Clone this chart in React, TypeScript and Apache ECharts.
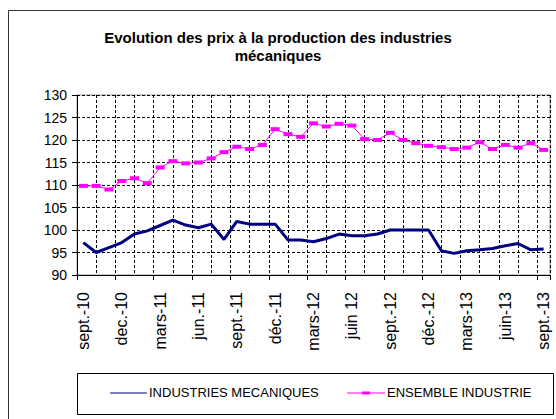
import React, { useEffect, useRef } from "react";
import * as echarts from "echarts";

const months = [
  "sept.-10", "oct.-10", "nov.-10", "dec.-10", "janv.-11", "févr.-11", "mars-11", "avr.-11", "mai-11", "jun.-11",
  "juil.-11", "août-11", "sept.-11", "oct.-11", "nov.-11", "déc.-11", "janv.-12", "févr.-12", "mars-12", "avr.-12",
  "mai-12", "juin 12", "juil.-12", "août-12", "sept.-12", "oct.-12", "nov.-12", "déc.-12", "janv.-13", "févr.-13",
  "mars-13", "avr.-13", "mai-13", "juin-13", "juil.-13", "août-13", "sept.-13",
];

const industriesMecaniques = [
  97.2, 95.0, 96.1, 97.2, 99.1, 99.8, 101.0, 102.2, 101.1, 100.5,
  101.3, 97.9, 101.9, 101.3, 101.3, 101.3, 97.8, 97.8, 97.4, 98.1,
  99.1, 98.7, 98.7, 99.1, 100.0, 100.0, 100.0, 100.0, 95.4, 94.8,
  95.4, 95.6, 95.9, 96.5, 97.0, 95.6, 95.8,
];

const ensembleIndustrie = [
  109.8, 109.8, 109.0, 110.9, 111.5, 110.4, 113.9, 115.3, 114.8, 115.0,
  115.9, 117.3, 118.5, 118.0, 118.9, 122.4, 121.3, 120.7, 123.7, 123.0,
  123.6, 123.2, 120.2, 120.0, 121.6, 120.0, 119.3, 118.7, 118.4, 118.0,
  118.3, 119.5, 118.0, 118.9, 118.3, 119.3, 117.8,
];

const seriesNames = ["INDUSTRIES MECANIQUES", "ENSEMBLE INDUSTRIE"];
const titleText = "Evolution des prix à la production des industries\nmécaniques";

export default function App() {
  const ref = useRef<HTMLDivElement>(null);
  useEffect(() => {
    if (!ref.current) return;
    const chart = echarts.init(ref.current, undefined, { renderer: "svg" });
    const font = "'Liberation Sans', Arial, sans-serif";
    const dashed = { color: "#000", width: 1, type: [3, 2] as any };
    chart.setOption({
      animation: false,
      backgroundColor: "#fff",
      textStyle: { fontFamily: font },
      title: {
        text: titleText,
        left: "center",
        top: 28,
        padding: 0,
        textStyle: { fontSize: 15, fontWeight: "bold", color: "#000", lineHeight: 18, fontFamily: font },
      },
      graphic: {
        elements: [
          {
            type: "rect",
            left: 8,
            top: 10,
            shape: { x: 0, y: 0, width: 600, height: 500 },
            style: { fill: "transparent", stroke: "#333", lineWidth: 1 },
            z: 100,
            silent: true,
          },
          {
            type: "rect",
            left: 77,
            top: 373,
            shape: { x: 0, y: 0, width: 476, height: 41 },
            style: { fill: "transparent", stroke: "#000", lineWidth: 1 },
            z: 100,
            silent: true,
          },
          {
            type: "line",
            shape: { x1: 110, y1: 393, x2: 147, y2: 393 },
            style: { stroke: "#000080", lineWidth: 1 },
            z: 100,
          },
          {
            type: "text",
            left: 149,
            top: 386,
            style: { text: seriesNames[0], fontSize: 13, fill: "#000", fontFamily: font },
            z: 100,
          },
          {
            type: "line",
            shape: { x1: 347, y1: 393, x2: 385, y2: 393 },
            style: { stroke: "#FF00FF", lineWidth: 1 },
            z: 100,
          },
          {
            type: "rect",
            shape: { x: 362, y: 391.5, width: 8, height: 3 },
            style: { fill: "#FF00FF" },
            z: 100,
          },
          {
            type: "text",
            left: 387,
            top: 386,
            style: { text: seriesNames[1], fontSize: 13, fill: "#000", fontFamily: font },
            z: 100,
          },
        ],
      },
      grid: {
        left: 77,
        top: 95,
        right: 6,
        bottom: 144,
        show: true,
        borderColor: "#999",
        borderWidth: 1,
        containLabel: false,
      },
      xAxis: [
        {
          type: "category",
          data: months,
          boundaryGap: true,
          axisLine: { lineStyle: { color: "#000", width: 1 } },
          axisTick: { show: true, interval: 2, length: 5, lineStyle: { color: "#000" } },
          axisLabel: { interval: 2, rotate: 90, margin: 17, fontSize: 16, color: "#000", fontFamily: font },
          splitLine: { show: false },
        },
        {
          type: "value",
          min: 0,
          max: 37,
          interval: 1.5,
          position: "top",
          axisLine: { show: false },
          axisTick: { show: false },
          axisLabel: { show: false },
          splitLine: { show: true, lineStyle: dashed },
        },
      ],
      yAxis: {
        type: "value",
        min: 90,
        max: 130,
        interval: 5,
        axisLine: { show: true, lineStyle: { color: "#000", width: 1 } },
        axisTick: { show: true, length: 5, lineStyle: { color: "#000" } },
        axisLabel: { margin: 10, fontSize: 14, color: "#000", fontFamily: font },
        splitLine: { show: true, lineStyle: dashed },
      },
      series: [
        {
          name: seriesNames[0],
          type: "line",
          xAxisIndex: 0,
          data: industriesMecaniques,
          symbol: "none",
          lineStyle: { color: "#000080", width: 3 },
          itemStyle: { color: "#000080" },
          z: 5,
        },
        {
          name: seriesNames[1],
          type: "line",
          xAxisIndex: 0,
          data: ensembleIndustrie,
          symbol: "rect",
          symbolSize: [9, 4],
          lineStyle: { color: "#FF00FF", width: 1 },
          itemStyle: { color: "#FF00FF", borderWidth: 0 },
          z: 5,
        },
      ],
    });
    return () => chart.dispose();
  }, []);
  return <div ref={ref} style={{ position: "fixed", left: 0, top: 0, width: 556, height: 419 }} />;
}
